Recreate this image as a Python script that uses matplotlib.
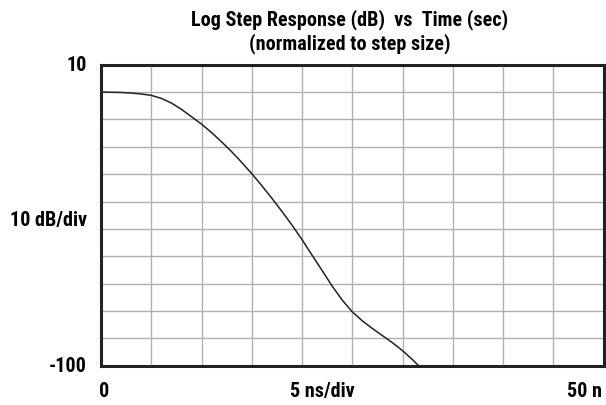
import matplotlib
matplotlib.use("Agg")
import numpy as np
from matplotlib import pyplot as plt
from matplotlib import font_manager

# step response, time in ns, level in dB
time_ns = [0, 1, 2, 3, 4, 5, 6, 7, 8, 9, 10, 11, 12, 13, 14, 15, 16, 17,
           18, 19, 20, 21, 22, 23, 24, 25, 26, 27, 28, 29, 30, 31, 31.6]
level_db = [0, -0.05, -0.15, -0.35, -0.7, -1.2, -2.3, -4.0, -6.3, -9.0,
            -11.7, -14.8, -18.2, -21.8, -25.7, -29.8, -34.2, -38.8, -43.6,
            -48.6, -53.9, -59.6, -65.2, -70.9, -76.0, -80.3, -83.6, -86.4,
            -89.0, -91.6, -94.5, -97.8, -100]

x_ticks = np.arange(0, 55, 5)
y_ticks = np.arange(-100, 20, 10)

title = "Log Step Response (dB)  vs  Time (sec)\n(normalized to step size)"
y_labels = [(10, "10"), (-46.5, "10 dB/div"), (-100, "-100")]
x_labels = [(0.3, "0", "center"), (22, "5 ns/div", "center"), (49.9, "50 n", "right")]

# look for a condensed face, otherwise shrink the plain one
names = {f.name for f in font_manager.fontManager.ttflist}
condensed = [n for n in ("DejaVu Sans Condensed", "Liberation Sans Narrow",
                         "Roboto Condensed", "Open Sans Condensed") if n in names]
if condensed:
    fam = [condensed[0], 'DejaVu Sans']
    fs = 14.5
else:
    fam = ['Liberation Sans', 'DejaVu Sans']
    fs = 12

plt.rcParams['font.family'] = fam
plt.rcParams['font.weight'] = 'bold'

fig = plt.figure(figsize=(6.06, 4.06), dpi=100)
ax = fig.add_axes([101 / 606, 1 - 366.7 / 406, 502.5 / 606, 301 / 406])

ax.set_xlim(0, 50)
ax.set_ylim(-100, 10)
ax.set_xticks(x_ticks)
ax.set_yticks(y_ticks)
ax.grid(True, color='#b0b0b0', linewidth=1.0)
ax.tick_params(length=0, labelbottom=False, labelleft=False)
for s in ax.spines.values():
    s.set_linewidth(2.2)
    s.set_color('#222222')

ax.plot(time_ns, level_db, color='#222222', linewidth=1.1)

ax.text(0.495, 1.038, title, transform=ax.transAxes, ha='center', va='bottom',
        fontsize=fs, fontweight='bold', fontstretch='condensed', linespacing=1.2)

ytr = ax.get_yaxis_transform()
for val, txt in y_labels:
    ax.text(-0.028, val, txt, transform=ytr, ha='right', va='center',
            fontsize=fs, fontweight='bold', fontstretch='condensed')

xtr = ax.get_xaxis_transform()
for val, txt, al in x_labels:
    ax.text(val, -0.083, txt, transform=xtr, ha=al, va='center',
            fontsize=fs, fontweight='bold', fontstretch='condensed', clip_on=False)

fig.savefig("out.png", dpi=100)
